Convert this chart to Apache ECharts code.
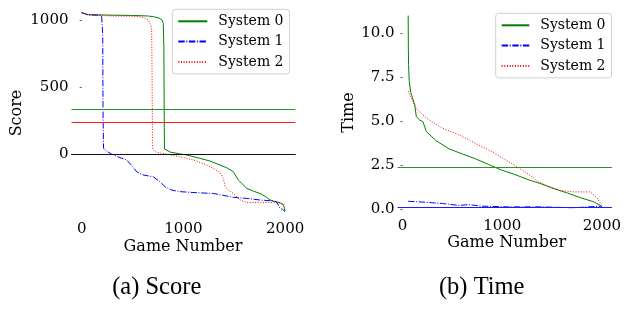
<!DOCTYPE html>
<html>
<head>
<meta charset="utf-8">
<script src="https://cdn.jsdelivr.net/npm/echarts@6/dist/echarts.min.js"></script>
<style>
  html, body { margin: 0; padding: 0; background: #fff; }
  #chart { width: 624px; height: 324px; }
</style>
</head>
<body>
<div id="chart"></div>
<script>
// score panel (a)
const seriesNames = ['System 0', 'System 1', 'System 2']
const s0Games = [0, 65, 300, 500, 650, 704, 760, 790, 802, 808, 812, 814, 830, 869, 967, 1032, 1165, 1262, 1360, 1426, 1491, 1540, 1622, 1690, 1753, 1819, 1852, 1918, 1950, 1985, 2000]
const s0Score = [1055, 1040, 1036, 1034, 1030, 1025, 1015, 1000, 975, 800, 200, 40, 30, 17, 3, -5, -30, -50, -80, -100, -130, -191, -253, -275, -291, -320, -340, -355, -360, -380, -422]
const s1Games = [0, 65, 150, 195, 203, 207, 210, 215, 240, 295, 360, 442, 500, 541, 606, 704, 770, 819, 885, 967, 1163, 1294, 1491, 1622, 1753, 1850, 1917, 1950, 1975, 2000]
const s1Score = [1055, 1037, 1036, 1035, 1030, 900, 300, 45, 25, 2, -20, -42, -90, -130, -154, -167, -204, -241, -266, -278, -287, -291, -320, -328, -340, -345, -353, -402, -410, -427]
const s2Games = [0, 65, 300, 500, 573, 620, 655, 680, 688, 692, 696, 700, 737, 835, 967, 1098, 1200, 1294, 1340, 1377, 1400, 1409, 1450, 1491, 1557, 1622, 1750, 1884, 1983, 2000]
const s2Score = [1055, 1037, 1030, 1028, 1025, 1015, 1000, 960, 926, 600, 100, 34, 14, 2, -18, -42, -70, -104, -125, -154, -200, -241, -270, -291, -340, -358, -358, -358, -365, -390]
const scoreRefLines = [335, 238, 0]
const scoreTicks = [0, 500, 1000]

// time panel (b)
const t0Games = [56, 58, 60, 66, 82, 122, 138, 170, 204, 220, 237, 336, 468, 599, 731, 863, 994, 1126, 1258, 1390, 1521, 1653, 1785, 1917, 1983, 2000]
const t0Time = [10.98, 9.0, 8.2, 7.3, 6.6, 5.9, 5.23, 5.05, 4.95, 4.7, 4.4, 3.87, 3.4, 3.12, 2.84, 2.52, 2.2, 1.95, 1.66, 1.42, 1.14, 0.9, 0.63, 0.4, 0.2, 0.12]
const t1Games = [56, 237, 402, 567, 665, 797, 1060, 1390, 1719, 1983, 2000]
const t1Time = [0.43, 0.37, 0.30, 0.19, 0.24, 0.15, 0.11, 0.11, 0.06, 0.15, 0.12]
const t2Games = [56, 72, 138, 204, 270, 402, 567, 731, 896, 1060, 1225, 1357, 1456, 1587, 1719, 1884, 1950, 1983, 2000]
const t2Time = [6.7, 6.45, 5.7, 5.32, 5.04, 4.57, 4.2, 3.72, 3.25, 2.69, 2.12, 1.56, 1.28, 1.04, 0.96, 0.96, 0.62, 0.34, 0.2]
const timeRefLines = [2.37, 0.11]
const timeTicks = [0, 2.5, 5, 7.5, 10]
const gameTicks = [0, 1000, 2000]

const GREEN = '#008000'
const BLUE = '#0000ff'
const RED = '#ff0000'
const SERIF = 'DejaVu Serif'
const styles = [
  { color: GREEN, type: 'solid' },
  { color: BLUE, type: [6.4, 1.6, 1, 1.6] },
  { color: RED, type: [1, 1.65] }
]

const zip = (xs, ys) => xs.map((x, i) => [x, ys[i]])

function line (name, idx, data, axis, markLine) {
  const s = {
    name,
    type: 'line',
    xAxisIndex: axis,
    yAxisIndex: axis,
    data,
    symbol: 'none',
    lineStyle: { width: 1, color: styles[idx].color, type: styles[idx].type },
    itemStyle: { color: styles[idx].color }
  }
  if (markLine) s.markLine = markLine
  return s
}

// horizontal reference lines across the whole panel
const refLine = (items) => ({
  silent: true,
  symbol: 'none',
  label: { show: false },
  animation: false,
  lineStyle: { width: 1, type: 'solid' },
  data: items.map(([v, c]) => ({ yAxis: v, lineStyle: { color: c, width: 1, type: 'solid' } }))
})

function legendAt (left, top, itemWidth) {
  return {
    orient: 'vertical',
    left,
    top,
    data: seriesNames,
    itemWidth,
    itemHeight: 14,
    itemGap: 6.3,
    padding: [5, 6, 5, 5],
    borderColor: '#d0d0d0',
    borderWidth: 1,
    borderRadius: 3,
    backgroundColor: 'rgba(255,255,255,0.8)',
    selectedMode: false,
    itemStyle: { color: 'transparent', borderColor: 'transparent', borderWidth: 0 },
    textStyle: { fontFamily: SERIF, fontSize: 14, color: '#000', padding: [0, 0, 0, 6] }
  }
}

const tickLabel = { fontFamily: SERIF, fontSize: 15, color: '#000' }
const plain = v => String(v)

const option = {
  animation: false,
  grid: [
    { left: 71.5, top: 1.2, width: 223.8, height: 220.3 },
    { left: 397.6, top: 6.4, width: 217.6, height: 212.1 }
  ],
  xAxis: [
    {
      type: 'value', gridIndex: 0, min: -100, max: 2100,
      splitLine: { show: false },
      axisLine: { show: true, lineStyle: { color: '#111', width: 1 } },
      axisTick: { show: false },
      axisLabel: { ...tickLabel, margin: 0, customValues: gameTicks, formatter: plain }
    },
    {
      type: 'value', gridIndex: 1, min: -50, max: 2100,
      splitLine: { show: false },
      axisLine: { show: false },
      axisTick: { show: false },
      axisLabel: { ...tickLabel, margin: 0, customValues: gameTicks, formatter: plain }
    }
  ],
  yAxis: [
    {
      type: 'value', gridIndex: 0, min: -500, max: 1140,
      splitLine: { show: false },
      axisLine: { show: false },
      axisTick: { show: true, length: 2, customValues: scoreTicks, lineStyle: { color: '#555' } },
      axisLabel: { ...tickLabel, margin: 3, customValues: scoreTicks, formatter: plain }
    },
    {
      type: 'value', gridIndex: 1, min: -0.55, max: 11.5,
      splitLine: { show: false },
      axisLine: { show: false },
      axisTick: { show: true, length: 2, customValues: timeTicks, lineStyle: { color: '#555' } },
      axisLabel: { ...tickLabel, margin: 3, customValues: timeTicks, formatter: v => v.toFixed(1) }
    }
  ],
  legend: [legendAt(172.3, 9.3, 29), legendAt(495.7, 13.3, 27.6)],
  series: [
    line(seriesNames[0], 0, zip(s0Games, s0Score), 0,
      refLine([[scoreRefLines[0], '#2a922a'], [scoreRefLines[1], '#ff1a1a'], [scoreRefLines[2], '#111']])),
    line(seriesNames[1], 1, zip(s1Games, s1Score), 0),
    line(seriesNames[2], 2, zip(s2Games, s2Score), 0),
    line(seriesNames[0], 0, zip(t0Games, t0Time), 1,
      refLine([[timeRefLines[0], '#2a922a'], [timeRefLines[1], '#1a1aff']])),
    line(seriesNames[1], 1, zip(t1Games, t1Time), 1),
    line(seriesNames[2], 2, zip(t2Games, t2Time), 1)
  ],
  graphic: [
    { type: 'text', x: 16.5, y: 113, rotation: Math.PI / 2, style: { text: 'Score', font: `16px "${SERIF}"`, fill: '#000', align: 'center', verticalAlign: 'middle' } },
    { type: 'text', x: 183, y: 246.5, style: { text: 'Game Number', font: `16px "${SERIF}"`, fill: '#000', align: 'center', verticalAlign: 'middle' } },
    { type: 'text', x: 349.2, y: 112.5, rotation: Math.PI / 2, style: { text: 'Time', font: `16px "${SERIF}"`, fill: '#000', align: 'center', verticalAlign: 'middle' } },
    { type: 'text', x: 506.7, y: 242.5, style: { text: 'Game Number', font: `16px "${SERIF}"`, fill: '#000', align: 'center', verticalAlign: 'middle' } },
    { type: 'text', x: 156.7, y: 288, style: { text: '(a) Score', font: '24.5px "Liberation Serif"', fill: '#000', align: 'center', verticalAlign: 'middle' } },
    { type: 'text', x: 481.7, y: 287.5, style: { text: '(b) Time', font: '24.5px "Liberation Serif"', fill: '#000', align: 'center', verticalAlign: 'middle' } }
  ]
}

const chart = echarts.init(document.getElementById('chart'), null, { renderer: 'canvas' })
chart.setOption(option)
</script>
</body>
</html>
